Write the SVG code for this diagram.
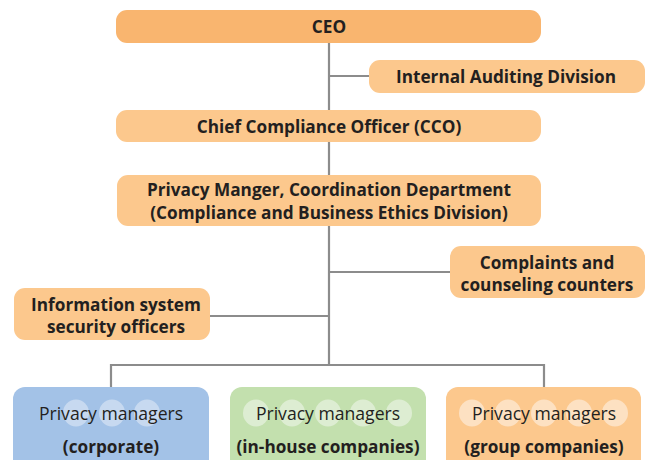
<svg xmlns="http://www.w3.org/2000/svg" width="648" height="460" viewBox="0 0 648 460">
<style>
text{font-family:"Open Sans","Noto Sans","Liberation Sans",sans-serif;fill:#231F20;text-anchor:middle}
.b{font-weight:bold;font-size:17.2px}
.r{font-size:17.6px}
.bb{font-weight:bold;font-size:17.2px}
.o1{fill:#F9B56F}
.o2{fill:#FCC88D}
.bl{fill:#A3C2E7}
.gr{fill:#C3E0AE}
.cb{fill:#C7D9F0}
.cg{fill:#DDEDD2}
.co{fill:#FDE1C2}
.ln{stroke:#8C8C8C;stroke-width:2.2;fill:none}
</style>
<rect width="648" height="460" fill="#FFFFFF"/>
<g id="connectors">
<path class="ln" d="M329 43V365M329 76H369M329 272H450M210 316H329M111 387V365H544V387"/>
</g>
<g id="ceo"><rect class="o1" x="116" y="10" width="425" height="33" rx="11"/><text class="b" x="329" y="32.5">CEO</text></g>
<g id="internal-auditing"><rect class="o2" x="369" y="60" width="276" height="33" rx="11"/><text class="b" x="506" y="82.5">Internal Auditing Division</text></g>
<g id="cco"><rect class="o2" x="116" y="110" width="425" height="32" rx="11"/><text class="b" x="329" y="132.5">Chief Compliance Officer (CCO)</text></g>
<g id="privacy-manager"><rect class="o2" x="117" y="175" width="424" height="51" rx="11"/><text class="b" x="329" y="195.5">Privacy Manger, Coordination Department</text><text class="b" x="329" y="218.5">(Compliance and Business Ethics Division)</text></g>
<g id="complaints"><rect class="o2" x="450" y="246" width="195" height="52" rx="11"/><text class="b" x="547" y="268.5">Complaints and</text><text class="b" x="547" y="290.5">counseling counters</text></g>
<g id="info-security"><rect class="o2" x="14" y="288" width="196" height="52" rx="11"/><text class="b" x="116" y="310.5">Information system</text><text class="b" x="116" y="332.5">security officers</text></g>
<g id="pm-corporate"><rect class="bl" x="13" y="387" width="196" height="90" rx="12"/>
<ellipse class="cb" cx="76" cy="413" rx="13" ry="13.5"/><ellipse class="cb" cx="112" cy="413" rx="13" ry="13.5"/><ellipse class="cb" cx="147" cy="413" rx="13" ry="13.5"/>
<text class="r" x="111" y="419.5">Privacy managers</text><text class="bb" x="111" y="452.5">(corporate)</text></g>
<g id="pm-inhouse"><rect class="gr" x="230" y="387" width="196" height="90" rx="12"/>
<ellipse class="cg" cx="256" cy="413" rx="13" ry="13.5"/><ellipse class="cg" cx="292" cy="413" rx="13" ry="13.5"/><ellipse class="cg" cx="328" cy="413" rx="13" ry="13.5"/><ellipse class="cg" cx="363" cy="413" rx="13" ry="13.5"/><ellipse class="cg" cx="399" cy="413" rx="13" ry="13.5"/>
<text class="r" x="328" y="419.5">Privacy managers</text><text class="bb" x="328" y="452.5">(in-house companies)</text></g>
<g id="pm-group"><rect class="o2" x="446" y="387" width="195" height="90" rx="12"/>
<ellipse class="co" cx="472" cy="413" rx="13" ry="13.5"/><ellipse class="co" cx="508" cy="413" rx="13" ry="13.5"/><ellipse class="co" cx="544" cy="413" rx="13" ry="13.5"/><ellipse class="co" cx="579" cy="413" rx="13" ry="13.5"/><ellipse class="co" cx="615" cy="413" rx="13" ry="13.5"/>
<text class="r" x="544" y="419.5">Privacy managers</text><text class="bb" x="544" y="452.5">(group companies)</text></g>
</svg>
